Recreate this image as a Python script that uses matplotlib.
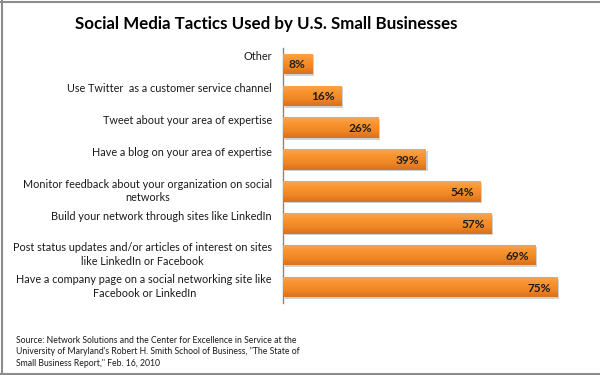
import matplotlib
matplotlib.use("Agg")
import matplotlib.pyplot as plt
import numpy as np
from matplotlib import patheffects as pe
from matplotlib.colors import LinearSegmentedColormap

categories = [
    "Other",
    "Use Twitter  as a customer service channel",
    "Tweet about your area of expertise",
    "Have a blog on your area of expertise",
    "Monitor feedback about your organization on social\nnetworks",
    "Build your network through sites like LinkedIn",
    "Post status updates and/or articles of interest on sites\nlike LinkedIn or Facebook",
    "Have a company page on a social networking site like\nFacebook or LinkedIn",
]
values = [8, 16, 26, 39, 54, 57, 69, 75]
value_labels = [f"{v}%" for v in values]
title = "Social Media Tactics Used by U.S. Small Businesses"
source = ("Source: Network Solutions and the Center for Excellence in Service at the\n"
          "University of Maryland's Robert H. Smith School of Business, \"The State of\n"
          "Small Business Report,\" Feb. 16, 2010")

FONT = ["Lato", "DejaVu Sans"]
plt.rcParams['font.family'] = FONT

W, H = 600, 375
fig = plt.figure(figsize=(6, 3.75), dpi=100)
fig.patch.set_facecolor("white")

ax = fig.add_axes([283 / W, 1 - 303 / H, 293 / W, 255 / H])
n = len(categories)
ypos = np.arange(n)
bh = 0.64

cmap = LinearSegmentedColormap.from_list(
    "barg", ["#FCA552", "#F8932E", "#F08626", "#D9701B"])
grad = np.linspace(0, 1, 64).reshape(-1, 1)

bars = ax.barh(ypos, values, height=bh, color="#F28A28", edgecolor="none", zorder=2,
               path_effects=[pe.SimplePatchShadow(offset=(1.2, -1.2), shadow_rgbFace="#999999", alpha=0.45),
                             pe.Normal()])
for b in bars:
    x0, y0 = b.get_x(), b.get_y()
    w, h = b.get_width(), b.get_height()
    im = ax.imshow(grad, extent=(x0, x0 + w, y0 + h, y0), aspect="auto",
                   cmap=cmap, zorder=3, interpolation="bilinear")
    im.set_clip_path(b)

for y, v, lab in zip(ypos, values, value_labels):
    ax.text(v - 1.8, y + 0.03, lab, ha="right", va="center", fontsize=8.6,
            fontweight="bold", color="#1c1c1c", zorder=4)

for y, c in zip(ypos, categories):
    ax.text(-11 / 293, y - 0.40, c, transform=ax.get_yaxis_transform(),
            ha="right", va="top", multialignment="center", fontsize=7.85,
            color="#1a1a1a", linespacing=1.3)

ax.set_xlim(0, 80)
ax.set_ylim(n - 0.5, -0.5)
ax.set_xticks([])
ax.set_yticks([])
for s in ["top", "right", "bottom"]:
    ax.spines[s].set_visible(False)
ax.spines["left"].set_color("#868686")
ax.spines["left"].set_linewidth(1.0)

fig.text(266 / W, 1 - 24 / H, title, ha="center", va="center", fontsize=12.2,
         fontweight="bold", color="#000000")
fig.text(16 / W, 1 - 352 / H, source, ha="left", va="center", fontsize=6.2,
         color="#1a1a1a", linespacing=1.38)

# image frame
frame_col = "#8c8c8c"
fig.add_artist(plt.Line2D([1.5 / W, 1.5 / W], [0, 1], color=frame_col, lw=1.5, transform=fig.transFigure))
fig.add_artist(plt.Line2D([0, 1], [1 - 1.5 / H, 1 - 1.5 / H], color=frame_col, lw=1.5, transform=fig.transFigure))
fig.add_artist(plt.Line2D([0, 1], [1.5 / H, 1.5 / H], color=frame_col, lw=1.5, transform=fig.transFigure))

fig.savefig("out.png", dpi=100, facecolor="white")
